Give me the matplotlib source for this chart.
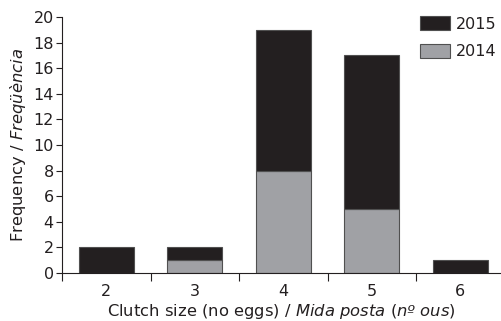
import matplotlib.pyplot as plt
import numpy as np

# clutch size categories and counts per year
clutch_sizes = [2, 3, 4, 5, 6]
freq_2014 = [0, 1, 8, 5, 0]
freq_2015 = [2, 1, 11, 12, 1]

col_2015 = '#231f20'
col_2014 = '#a0a1a5'
txt = '#231f20'

fig = plt.figure(figsize=(5.01, 3.21), dpi=100)
ax = fig.add_axes([0.124, 0.1495, 0.874, 0.7975])

x = np.array(clutch_sizes)
w = 0.62
b14 = ax.bar(x, freq_2014, width=w, color=col_2014, edgecolor='#505050', linewidth=0.8)
b15 = ax.bar(x, freq_2015, width=w, bottom=freq_2014, color=col_2015, edgecolor='#505050', linewidth=0.8)

ax.set_xlim(1.5, 6.45)
ax.set_ylim(0, 20)
ax.set_yticks(range(0, 21, 2))
ax.set_xticks(clutch_sizes)
ax.set_xticks(np.arange(1.5, 6.0, 1.0), minor=True)
ax.tick_params(axis='x', which='major', length=0, pad=8, labelsize=11.5, colors=txt)
ax.tick_params(axis='x', which='minor', length=6, width=0.8, direction='out', color=txt)
ax.tick_params(axis='y', length=4, width=0.8, direction='out', labelsize=11.5, pad=2, colors=txt)

for s in ['top', 'right']:
    ax.spines[s].set_visible(False)
for s in ['left', 'bottom']:
    ax.spines[s].set_linewidth(0.8)
    ax.spines[s].set_color(txt)

plt.rcParams['mathtext.fontset'] = 'dejavusans'
ax.set_xlabel('Clutch size (no eggs) / $\\mathit{Mida\\ posta\\ (nº\\ ous)}$', fontsize=11.8, color=txt, labelpad=2)
ax.set_ylabel('Frequency / $\\mathit{Freqüència}$', fontsize=11.8, color=txt, labelpad=4)

ax.legend([b15, b14], ['2015', '2014'], loc='upper left', bbox_to_anchor=(0.838, 0.95),
          bbox_transform=fig.transFigure, frameon=False, borderpad=0, borderaxespad=0,
          fontsize=11.5, handlelength=1.9, handleheight=1.0, handletextpad=0.35, labelspacing=0.75)
for t in ax.get_legend().get_texts():
    t.set_color(txt)

fig.savefig('out.png', dpi=100)
